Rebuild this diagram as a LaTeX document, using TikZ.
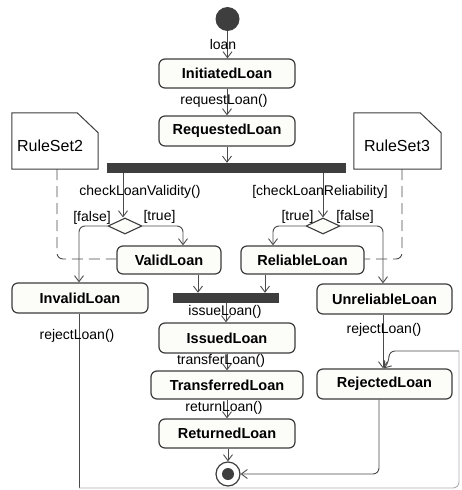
\documentclass[tikz,border=0pt]{standalone}
\usepackage{fontspec}
\setmainfont{Liberation Sans}
\usetikzlibrary{arrows.meta,shapes.geometric}
\definecolor{ln}{HTML}{4A4A4A}
\definecolor{bd}{HTML}{3C3C3C}
\definecolor{nodefill}{HTML}{FCFCF9}
\definecolor{barc}{HTML}{3E3E3E}
\begin{document}
\begin{tikzpicture}[x=1pt,y=-1pt,
  state/.style={draw=bd, line width=1.2pt, rounded corners=6pt, fill=nodefill,
    font=\bfseries\fontsize{14.5}{16}\selectfont, inner sep=0pt},
  barnode/.style={fill=barc, draw=none, inner sep=0pt},
  lbl/.style={font=\fontsize{14}{16}\selectfont, inner sep=0pt, text=black},
  notetext/.style={font=\fontsize{16}{18}\selectfont, inner sep=0pt},
  flow/.style={draw=ln, line width=0.9pt, -{Straight Barb[length=6pt,width=9pt]}, rounded corners=6pt},
  plainflow/.style={draw=ln, line width=0.9pt, rounded corners=6pt},
  anchorline/.style={draw=ln, line width=0.9pt, dash pattern=on 11pt off 6pt, rounded corners=6pt},
  decision/.style={diamond, draw=bd, fill=nodefill, line width=1.1pt, minimum width=34pt, minimum height=16pt, inner sep=0pt},
  notebox/.style={minimum width=86pt, minimum height=56pt, inner sep=0pt}
]
\useasboundingbox (0,0) rectangle (461,490);

% initial / final
\node[circle, fill=barc, minimum size=24pt, inner sep=0pt] (init) at (227.5,19) {};
\node[circle, draw=bd, fill=white, line width=1.2pt, minimum size=24pt, inner sep=0pt] (final) at (228,474) {};
\node[circle, fill=barc, minimum size=12pt, inner sep=0pt] (finaldot) at (228,474) {};

% states
\node[state, minimum width=136pt, minimum height=29pt] (initiated) at (227,73.5) {InitiatedLoan};
\node[state, minimum width=136pt, minimum height=30pt] (requested) at (227,131) {RequestedLoan};
\node[state, minimum width=104pt, minimum height=28pt] (valid) at (169,260) {ValidLoan};
\node[state, minimum width=123pt, minimum height=28pt] (reliable) at (302.5,260) {ReliableLoan};
\node[state, minimum width=136pt, minimum height=30pt] (invalid) at (80,298) {InvalidLoan};
\node[state, minimum width=135pt, minimum height=30pt] (unreliable) at (384.5,299) {UnreliableLoan};
\node[state, minimum width=136pt, minimum height=30pt] (issued) at (227,338) {IssuedLoan};
\node[state, minimum width=152pt, minimum height=28pt] (transferred) at (227,385) {TransferredLoan};
\node[state, minimum width=136pt, minimum height=29pt] (returned) at (227,433.5) {ReturnedLoan};
\node[state, minimum width=135pt, minimum height=30pt] (rejected) at (384.5,384) {RejectedLoan};

% bars
\node[barnode, minimum width=239pt, minimum height=10pt] (fork) at (226.5,168) {};
\node[barnode, minimum width=106pt, minimum height=10pt] (join) at (226,298) {};

% decisions
\node[decision] (decL) at (125,226) {};
\node[decision] (decR) at (323,226) {};

% notes
\node[notebox] (rs2) at (55,141) {};
\node[notebox, minimum width=87pt] (rs3) at (397.5,141) {};
\draw[draw=bd, line width=1pt, fill=white] (rs2.north west) -- ([xshift=-21pt]rs2.north east) -- ([yshift=-20pt]rs2.north east) -- (rs2.south east) -- (rs2.south west) -- cycle;
\draw[draw=bd, line width=1pt, fill=white] (rs3.north west) -- ([xshift=-21pt]rs3.north east) -- ([yshift=-20pt]rs3.north east) -- (rs3.south east) -- (rs3.south west) -- cycle;
\node[notetext] (rs2t) at (50,146) {RuleSet2};
\node[notetext] (rs3t) at (397,146) {RuleSet3};

% anchors (dashed)
\draw[anchorline] (rs2.south -| 57,0) -- (57,259) -- (valid.west |- 0,259);
\draw[anchorline] (rs3.south -| 402,0) -- (402,259) -- (reliable.east |- 0,259);

% flows
\draw[flow] (init) -- (initiated.north -| init);
\node[lbl] (l1) at (223,44) {loan};
\draw[flow] (initiated) -- (requested);
\node[lbl] (l2) at (224,101) {requestLoan()};
\draw[flow] (requested) -- (fork.north -| requested);

\draw[flow] (fork.south -| 123,0) -- (decL.north -| 123,0);
\node[lbl] (l3) at (140,192) {checkLoanValidity()};
\draw[flow] (fork.south -| 323,0) -- (decR.north);
\node[lbl] (l4) at (320,192) {[checkLoanReliability]};

\draw[flow] (decL.west) -- (79,226) -- (invalid.north -| 79,0);
\node[lbl] (l5) at (92,218) {[false]};
\draw[flow] (decL.east) -- (183,226) -- (valid.north -| 183,0);
\node[lbl] (l6) at (159.5,217) {[true]};

\draw[flow] (decR.west) -- (273,226) -- (reliable.north -| 273,0);
\node[lbl] (l7) at (297.5,217) {[true]};
\draw[flow] (decR.east) -- (383,226) -- (unreliable.north -| 383,0);
\node[lbl] (l8) at (355,217) {[false]};

\draw[flow] (valid.south -| 198,0) -- (join.north -| 198,0);
\draw[flow] (reliable.south -| 265,0) -- (join.north -| 265,0);
\draw[flow] (join) -- (issued.north -| join);
\node[lbl] (l9) at (225,312) {issueLoan()};
\draw[flow] (issued) -- (transferred);
\node[lbl] (l10) at (221,361) {transferLoan()};
\draw[flow] (transferred) -- (returned);
\node[lbl] (l11) at (224,408) {returnLoan()};
\draw[flow] (returned.south -| final) -- (final);

\draw[flow] (unreliable.south -| 383,0) -- (rejected.north -| 383,0);
\node[lbl] (l12) at (384,330) {rejectLoan()};
\draw[flow] (rejected.south -| 379,0) -- (379,474) -- (final.east);

\draw[plainflow] (invalid.south -| 79,0) -- (79,488);
\draw[plainflow, draw=ln!45] (79,488) -- (459,488) -- (459,351);
\draw[flow] (459,351) -- (389,351) -- (389,362) -- (rejected.north -| 384,0);
\node[lbl] (l13) at (77,336) {rejectLoan()};
\end{tikzpicture}
\end{document}
